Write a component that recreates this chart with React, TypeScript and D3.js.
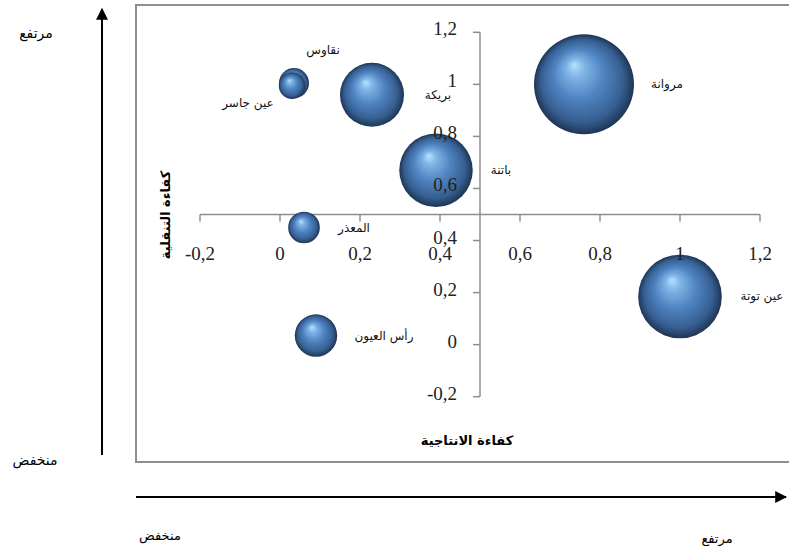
import React from "react";
import * as d3 from "d3";

const names = ["مروانة", "عين توتة", "باتنة", "بريكة", "رأس العيون", "المعذر", "نقاوس", "عين جاسر"];
const productivity = [0.76, 1.0, 0.39, 0.23, 0.09, 0.06, 0.035, 0.03];
const mobility = [1.0, 0.185, 0.67, 0.96, 0.035, 0.45, 1.005, 0.995];
const sizes = [100, 70, 54, 41, 18, 10, 9, 7];
// label offsets relative to bubble centre (text centre)
const labelDx = [83, 82, 65, 66, 68, 50, 29, -44];
const labelDy = [0, 0, 0, 0, 0, 0, -33, 17];

const xTicks = [-0.2, 0, 0.2, 0.4, 0.6, 0.8, 1, 1.2];
const yTicks = [-0.2, 0, 0.2, 0.4, 0.6, 0.8, 1, 1.2];

const fmt = (v: number) => (Math.round(v * 10) / 10).toString().replace(".", ",");

export default function App() {
  const W = 789, H = 554;
  const x = d3.scaleLinear().domain([-0.2, 1.2]).range([200, 760]);
  const y = d3.scaleLinear().domain([-0.2, 1.2]).range([396.7, 32.3]);
  const r = d3.scaleSqrt().domain([0, 100]).range([0, 50]);
  const axX = x(0.5);
  const axY = y(0.5);
  const gray = "#8e8e8e";
  const serif = "'Liberation Serif', 'DejaVu Serif', serif";
  const arab = "'DejaVu Sans', 'Noto Sans', sans-serif";

  const order = d3.range(names.length).sort((a, b) => sizes[b] - sizes[a]);

  return (
    <svg width={W} height={H} style={{ position: "absolute", left: 0, top: 0, background: "#fff" }}>
      <defs>
        <radialGradient id="sph" cx="50%" cy="50%" r="50%" fx="40%" fy="30%">
          <stop offset="0%" stopColor="#b9e2ff" />
          <stop offset="18%" stopColor="#80b5e7" />
          <stop offset="50%" stopColor="#4f83c0" />
          <stop offset="82%" stopColor="#365f92" />
          <stop offset="100%" stopColor="#1e3553" />
        </radialGradient>
        <marker id="ah" viewBox="0 0 10 10" refX="9" refY="5" markerWidth="6" markerHeight="6" orient="auto">
          <path d="M0,0 L10,5 L0,10 z" fill="#000" />
        </marker>
      </defs>

      {/* outer arrows */}
      <line x1={102} y1={455} x2={102} y2={9} stroke="#000" strokeWidth={2} markerEnd="url(#ah)" />
      <line x1={136} y1={497} x2={786} y2={497} stroke="#000" strokeWidth={2} markerEnd="url(#ah)" />
      <text x={36} y={38} textAnchor="middle" fontFamily={arab} fontSize={14}>مرتفع</text>
      <text x={35} y={465} textAnchor="middle" fontFamily={arab} fontSize={14}>منخفض</text>
      <text x={160} y={540} textAnchor="middle" fontFamily={arab} fontSize={13}>منخفض</text>
      <text x={717} y={543} textAnchor="middle" fontFamily={arab} fontSize={13}>مرتفع</text>

      {/* chart frame */}
      <rect x={136} y={5} width={700} height={457} fill="#fff" stroke={gray} strokeWidth={2} />

      {/* axes */}
      <line x1={x(-0.2)} x2={x(1.2)} y1={axY} y2={axY} stroke={gray} strokeWidth={1.5} />
      {xTicks.map((t) => (
        <line key={"xt" + t} x1={x(t)} x2={x(t)} y1={axY} y2={axY + 7} stroke={gray} strokeWidth={1.5} />
      ))}
      <line x1={axX} x2={axX} y1={y(1.2)} y2={y(-0.2)} stroke={gray} strokeWidth={1.5} />
      {yTicks.map((t) => (
        <line key={"yt" + t} x1={axX - 7} x2={axX} y1={y(t)} y2={y(t)} stroke={gray} strokeWidth={1.5} />
      ))}

      {/* bubbles */}
      {order.map((i) => (
        <circle key={names[i]} cx={x(productivity[i])} cy={y(mobility[i])} r={r(sizes[i])} fill="url(#sph)" />
      ))}

      {/* tick labels */}
      {xTicks.map((t) => (
        <text key={"xl" + t} x={x(t)} y={axY + 45} textAnchor="middle" fontFamily={serif} fontSize={19} fill="#222">
          {fmt(t)}
        </text>
      ))}
      {yTicks.map((t) => (
        <text key={"yl" + t} x={axX - 23} y={y(t) + 3} textAnchor="end" fontFamily={serif} fontSize={19} fill="#222">
          {fmt(t)}
        </text>
      ))}

      {/* data labels */}
      {names.map((n, i) => (
        <text
          key={"lb" + n}
          x={x(productivity[i]) + labelDx[i]}
          y={y(mobility[i]) + labelDy[i] + 4}
          textAnchor="middle"
          fontFamily={arab}
          fontSize={12}
          fill="#111"
        >
          {n}
        </text>
      ))}

      {/* axis titles */}
      <text x={467} y={445} textAnchor="middle" fontFamily={arab} fontWeight="bold" fontSize={13}>كفاءة الانتاجية</text>
      <text
        transform={`translate(170, 215) rotate(-90)`}
        textAnchor="middle"
        fontFamily={arab}
        fontWeight="bold"
        fontSize={13}
      >
        كفاءة التنقلية
      </text>
    </svg>
  );
}
